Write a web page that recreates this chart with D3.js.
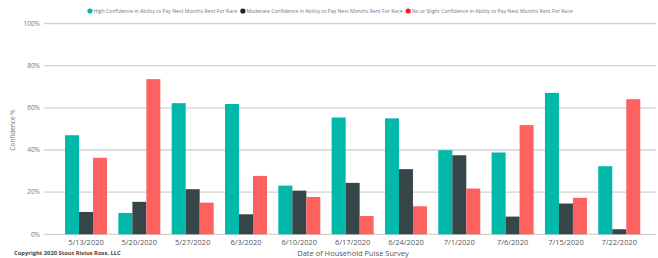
<!DOCTYPE html>
<html>
<head>
<meta charset="utf-8">
<script src="https://cdn.jsdelivr.net/npm/d3@7"></script>
<style>
  body { margin: 0; background: #fff; }
  svg { display: block; font-family: "Open Sans", "Noto Sans", Arial, sans-serif; }
</style>
</head>
<body>
<svg id="chart" width="658" height="258"></svg>
<script>
'use strict';

const dates = ['5/13/2020', '5/20/2020', '5/27/2020', '6/3/2020', '6/10/2020', '6/17/2020',
  '6/24/2020', '7/1/2020', '7/6/2020', '7/15/2020', '7/22/2020'];
const seriesNames = [
  'High Confidence in Ability to Pay Next Months Rent For Race',
  'Moderate Confidence in Ability to Pay Next Months Rent For Race',
  'No or Slight Confidence in Ability to Pay Next Months Rent For Race'
];
const highConf = [47.0, 10.1, 62.2, 61.8, 23.1, 55.4, 55.0, 39.9, 38.8, 67.1, 32.3];
const moderateConf = [10.6, 15.4, 21.4, 9.5, 20.7, 24.4, 30.9, 37.5, 8.4, 14.6, 2.4];
const lowConf = [36.3, 73.6, 15.0, 27.7, 17.7, 8.7, 13.3, 21.7, 51.8, 17.3, 64.1];
const yTicks = [0, 20, 40, 60, 80, 100];
const colors = ['#01B8AA', '#374649', '#FD625E'];
const legendDots = ['#01B8AA', '#222', '#F2231D'];

const svg = d3.select('#chart');
const values = [highConf, moderateConf, lowConf];

const y = d3.scaleLinear().domain([0, 100]).range([234.3, 23.5]);
const x0 = d3.scaleBand().domain(dates).range([59.7, 645.6]).paddingInner(0.2125).paddingOuter(0.1);
const x1 = d3.scaleBand().domain([0, 1, 2]).range([0, x0.bandwidth()]);

// gridlines
svg.append('g')
  .selectAll('line')
  .data(yTicks)
  .join('line')
  .attr('x1', 44)
  .attr('x2', 656)
  .attr('y1', d => y(d))
  .attr('y2', d => y(d))
  .attr('stroke', '#d2d2d2')
  .attr('stroke-width', 1.3);

// y tick labels
svg.append('g')
  .selectAll('text')
  .data(yTicks)
  .join('text')
  .attr('x', 40)
  .attr('y', d => y(d))
  .attr('dy', '0.35em')
  .attr('text-anchor', 'end')
  .attr('style', 'font-size: 6.5px; fill: #777')
  .text(d => d + '%');

// bars
const groups = svg.append('g')
  .selectAll('g')
  .data(dates)
  .join('g')
  .attr('transform', d => 'translate(' + x0(d) + ',0)');

groups.selectAll('rect')
  .data((d, i) => values.map((s, k) => ({ k, v: s[i] })))
  .join('rect')
  .attr('x', d => x1(d.k))
  .attr('width', x1.bandwidth())
  .attr('y', d => y(d.v))
  .attr('height', d => y(0) - y(d.v))
  .attr('fill', d => colors[d.k]);

// x labels
svg.append('g')
  .selectAll('text')
  .data(dates)
  .join('text')
  .attr('x', d => x0(d) + x0.bandwidth() / 2)
  .attr('y', 242)
  .attr('dy', '0.35em')
  .attr('text-anchor', 'middle')
  .attr('style', 'font-size: 7.5px; fill: #555')
  .text(d => d);

// axis titles
svg.append('text')
  .attr('x', 353)
  .attr('y', 253)
  .attr('dy', '0.35em')
  .attr('text-anchor', 'middle')
  .attr('style', 'font-size: 7.5px; fill: #555')
  .text('Date of Household Pulse Survey');

svg.append('text')
  .attr('transform', 'translate(13,130) rotate(-90)')
  .attr('dy', '0.35em')
  .attr('text-anchor', 'middle')
  .attr('style', 'font-size: 6.5px; fill: #777')
  .text('Confidence %');

svg.append('text')
  .attr('x', 14)
  .attr('y', 253)
  .attr('dy', '0.35em')
  .attr('style', 'font-size: 5.8px; font-weight: 700; fill: #444')
  .text('Copyright 2020 Stout Risius Ross, LLC');

// legend
const legend = svg.append('g');
let lx = 90;
seriesNames.forEach(function(name, k) {
  legend.append('circle')
    .attr('cx', lx)
    .attr('cy', 11)
    .attr('r', 2.6)
    .attr('fill', legendDots[k]);
  const t = legend.append('text')
    .attr('x', lx + 3.5)
    .attr('y', 11)
    .attr('dy', '0.35em')
    .attr('style', 'font-size: 5.15px; fill: #777')
    .text(name);
  lx += 3.5 + t.node().getComputedTextLength() + 5.5;
});
</script>
</body>
</html>
